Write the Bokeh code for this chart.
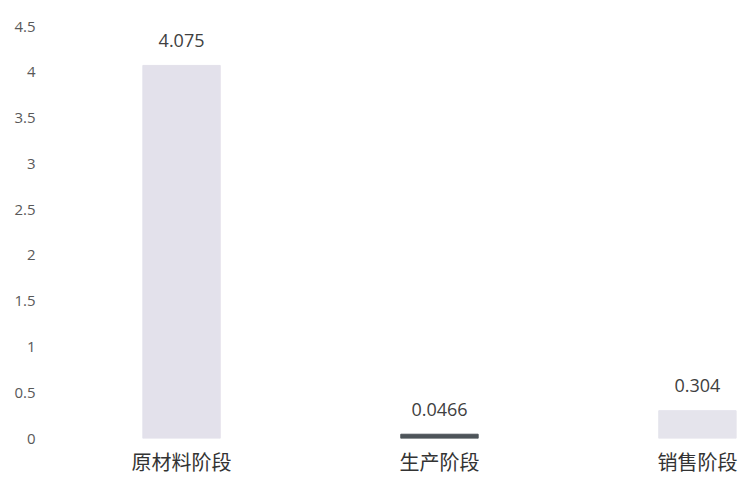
from bokeh.plotting import figure
from bokeh.models import ColumnDataSource, Range1d, FixedTicker, CustomJSTickFormatter
from bokeh.core.properties import value
from bokeh.embed import file_html
from bokeh.resources import INLINE

categories = ["原材料阶段", "生产阶段", "销售阶段"]
values = [4.075, 0.0466, 0.304]
value_labels = ["4.075", "0.0466", "0.304"]
bar_colors = ["#e3e1eb", "#4d5459", "#e5e4ec"]
y_ticks = [0, 0.5, 1, 1.5, 2, 2.5, 3, 3.5, 4, 4.5]

xs = list(range(len(categories)))
source = ColumnDataSource(dict(x=xs, top=values, label=value_labels, color=bar_colors))

p = figure(width=740, height=478, output_backend="svg", toolbar_location=None,
           x_range=Range1d(-0.508, 2.167), y_range=Range1d(0, 4.5),
           min_border_left=50, min_border_right=0, min_border_top=26, min_border_bottom=39)
p.outline_line_color = None
p.background_fill_color = "white"
p.border_fill_color = "white"
p.xgrid.visible = False
p.ygrid.visible = False

p.vbar(x="x", top="top", bottom=0, width=0.3, color="color", source=source)
p.text(x="x", y="top", text="label", source=source, text_align="center",
       text_baseline="middle", y_offset=-25, text_font=value("Open Sans"),
       text_font_size="18px", text_color="#404040")

p.xaxis.ticker = FixedTicker(ticks=xs)
p.xaxis.major_label_overrides = {i: c for i, c in enumerate(categories)}
p.xaxis.major_label_text_font = "Noto Sans CJK SC"
p.xaxis.major_label_text_font_size = "20px"
p.xaxis.major_label_text_color = "#333333"
p.xaxis.major_label_standoff = 8
p.xaxis.axis_line_color = None
p.xaxis.major_tick_line_color = None
p.xaxis.minor_tick_line_color = None
p.xaxis.major_tick_out = 0

p.yaxis.ticker = FixedTicker(ticks=y_ticks)
p.yaxis.formatter = CustomJSTickFormatter(code="return String(tick);")
p.yaxis.major_label_text_font = "Open Sans"
p.yaxis.major_label_text_font_size = "15px"
p.yaxis.major_label_text_color = "#595959"
p.yaxis.major_label_standoff = 15
p.yaxis.axis_line_color = None
p.yaxis.major_tick_line_color = None
p.yaxis.minor_tick_line_color = None
p.yaxis.major_tick_out = 0

open("out.html", "w").write(file_html(p, INLINE))
